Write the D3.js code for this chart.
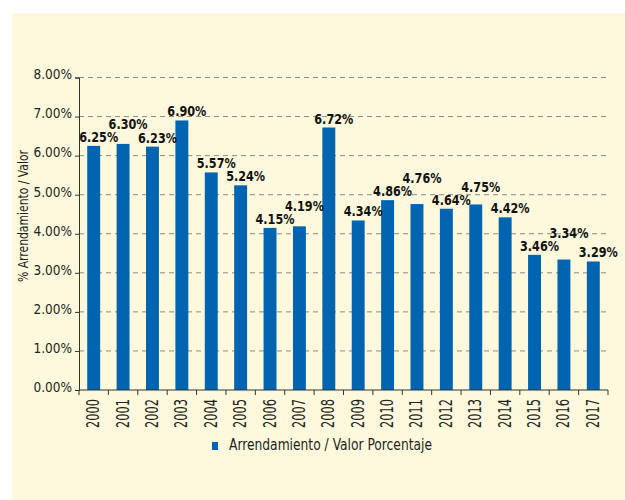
<!DOCTYPE html>
<html>
<head>
<meta charset="utf-8">
<script src="https://d3js.org/d3.v7.min.js"></script>
<style>
  body { margin: 0; background: #fff; }
  text { font-family: 'DejaVu Sans Condensed', 'DejaVu Sans', sans-serif; font-stretch: condensed; fill: #231f20; }
  .grid line { stroke: #8a8a8a; stroke-dasharray: 5, 4; }
  .axis path, .axis line { stroke: #333; }
  .lbl { font-weight: bold; font-size: 14.5px; fill: #111; }
</style>
</head>
<body>
<script>
  // data
  var years = ["2000","2001","2002","2003","2004","2005","2006","2007","2008",
               "2009","2010","2011","2012","2013","2014","2015","2016","2017"];
  var ratio = [6.25, 6.30, 6.23, 6.90, 5.57, 5.24, 4.15, 4.19, 6.72,
               4.34, 4.86, 4.76, 4.64, 4.75, 4.42, 3.46, 3.34, 3.29];
  var yTicks = [0, 1, 2, 3, 4, 5, 6, 7, 8];
  var seriesName = "Arrendamiento / Valor Porcentaje";

  var W = 625, H = 500;
  var m = {left: 79, right: 17, top: 77.5, bottom: 110};
  var pct = d => d3.format(".2f")(d) + "%";

  var svg = d3.select("body").append("svg")
    .attr("width", W)
    .attr("height", H);

  // cream panel
  svg.append("rect")
    .attr("x", 12).attr("y", 13)
    .attr("width", W - 12).attr("height", H - 13)
    .attr("fill", "#fef9dc");

  var x = d3.scaleBand()
    .domain(years)
    .range([m.left, W - m.right])
    .paddingInner(0.56)
    .paddingOuter(0.28);

  var y = d3.scaleLinear()
    .domain([0, 8])
    .range([H - m.bottom, m.top]);

  // grid
  svg.append("g")
    .attr("class", "grid")
    .selectAll("line")
    .data(yTicks.filter(d => d > 0))
    .enter().append("line")
      .attr("x1", m.left).attr("x2", W - m.right + 1)
      .attr("y1", d => y(d)).attr("y2", d => y(d));

  // bars
  svg.append("g")
    .selectAll("rect")
    .data(ratio)
    .enter().append("rect")
      .attr("x", (d, i) => x(years[i]))
      .attr("y", d => y(d))
      .attr("width", x.bandwidth())
      .attr("height", d => y(0) - y(d))
      .attr("fill", "#0064b1");

  // y axis
  var yAxis = svg.append("g")
    .attr("class", "axis")
    .attr("transform", "translate(" + m.left + ",0)")
    .call(d3.axisLeft(y).tickValues(yTicks).tickSize(4).tickPadding(3).tickFormat(pct));
  yAxis.selectAll("text")
    .style("font-size", "13.5px")
    .attr("dy", "0.1em")
    .attr("fill", "#231f20");

  // x axis, ticks between the bars
  var xAxis = svg.append("g")
    .attr("class", "axis")
    .attr("transform", "translate(0," + y(0) + ")");
  xAxis.append("line")
    .attr("x1", m.left).attr("x2", W - m.right)
    .attr("stroke", "#333");
  var edges = d3.range(years.length + 1).map(i => x.range()[0] + i * x.step());
  xAxis.selectAll(".tk")
    .data(edges)
    .enter().append("line")
      .attr("class", "tk")
      .attr("x1", d => d).attr("x2", d => d)
      .attr("y1", 0).attr("y2", 5)
      .attr("stroke", "#333");
  xAxis.selectAll(".yr")
    .data(years)
    .enter().append("text")
      .attr("class", "yr")
      .attr("transform", d => "translate(" + (x(d) + x.bandwidth() / 2 + 5.5) + ",9) rotate(-90)")
      .attr("text-anchor", "end")
      .attr("textLength", 29)
      .attr("lengthAdjust", "spacingAndGlyphs")
      .style("font-size", "17px")
      .text(d => d);

  // value labels, lifted when they would hit the previous one
  var labels = svg.append("g")
    .selectAll("text")
    .data(ratio)
    .enter().append("text")
      .attr("class", "lbl")
      .attr("x", (d, i) => x(years[i]) + x.bandwidth() / 2 + 5)
      .attr("text-anchor", "middle")
      .attr("textLength", 39)
      .attr("lengthAdjust", "spacingAndGlyphs")
      .text(pct);
  var prevY = null;
  labels.each(function(d) {
    var ly = y(d) - 4;
    if (prevY !== null && Math.abs(ly - prevY) < 12) ly = prevY - 13;
    d3.select(this).attr("y", ly);
    prevY = ly;
  });

  // y title
  svg.append("text")
    .attr("transform", "translate(28,216) rotate(-90)")
    .attr("text-anchor", "middle")
    .attr("textLength", 132)
    .attr("lengthAdjust", "spacingAndGlyphs")
    .style("font-size", "14px")
    .text("% Arrendamiento / Valor");

  // legend
  var lg = svg.append("g").attr("transform", "translate(212,442)");
  lg.append("rect")
    .attr("width", 6).attr("height", 8)
    .attr("fill", "#0064b1");
  lg.append("text")
    .attr("x", 17).attr("y", 8)
    .attr("textLength", 203)
    .attr("lengthAdjust", "spacingAndGlyphs")
    .style("font-size", "15px")
    .text(seriesName);
</script>
</body>
</html>
